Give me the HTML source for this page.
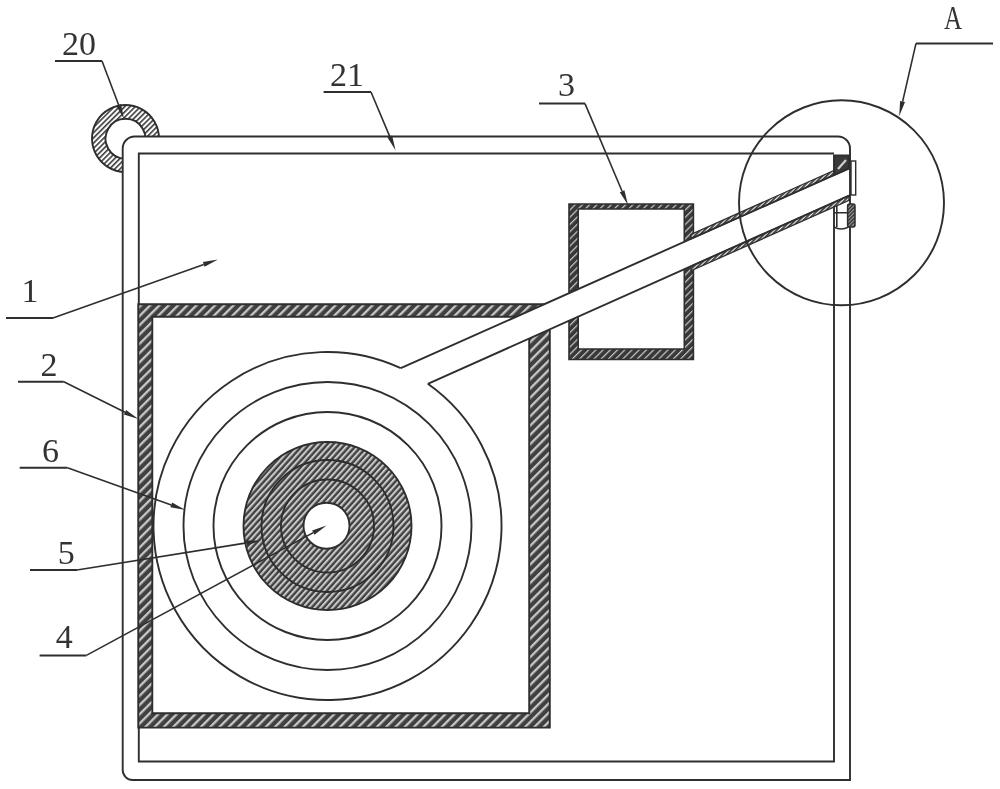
<!DOCTYPE html>
<html lang="en"><head><meta charset="utf-8"><title>Figure</title>
<style>
html,body{margin:0;padding:0;background:#fff;}
body{width:1000px;height:789px;overflow:hidden;}
svg{display:block;}
text{font-family:"Liberation Serif","Noto Serif CJK SC",serif;font-size:34px;fill:#333;}
</style></head><body>
<svg width="1000" height="789" viewBox="0 0 1000 789">
<defs>
<pattern id="hDisc" patternUnits="userSpaceOnUse" width="4.44" height="8" patternTransform="rotate(42)">
<rect width="4.44" height="8" fill="#404040"/><rect x="0" width="2.1" height="8" fill="#c8c8c8"/></pattern>
<pattern id="hWall" patternUnits="userSpaceOnUse" width="6.55" height="8" patternTransform="rotate(45)">
<rect width="6.55" height="8" fill="#404040"/><rect x="0" width="2.3" height="8" fill="#c8c8c8"/></pattern>
<pattern id="hBox3" patternUnits="userSpaceOnUse" width="5.1" height="8" patternTransform="rotate(45)">
<rect width="5.1" height="8" fill="#383838"/><rect x="0" width="1.25" height="8" fill="#c4c4c4"/></pattern>
<pattern id="hRing" patternUnits="userSpaceOnUse" width="3.7" height="8" patternTransform="rotate(45)">
<rect width="3.7" height="8" fill="#ffffff"/><rect x="0" width="1.6" height="8" fill="#3a3a3a"/></pattern>
<pattern id="hSleeve" patternUnits="userSpaceOnUse" width="3.0" height="8" patternTransform="rotate(45)">
<rect width="3.0" height="8" fill="#f4f4f4"/><rect x="0" width="1.8" height="8" fill="#383838"/></pattern>
<pattern id="hBolt" patternUnits="userSpaceOnUse" width="2.6" height="8" patternTransform="rotate(45)">
<rect width="2.6" height="8" fill="#3c3c3c"/><rect x="0" width="0.9" height="8" fill="#a8a8a8"/></pattern>
</defs>
<rect width="1000" height="789" fill="#fff"/>

<g fill="none" stroke="#2e2e2e" stroke-width="1.9" stroke-linejoin="miter">
<path d="M125.5 105 a33.5 33.5 0 1 0 0.01 0Z M125.5 118.8 a19.9 19.9 0 1 1 -0.01 0Z" fill="url(#hRing)" fill-rule="evenodd"/>
<path d="M134.7 136.5 H838 A12 12 0 0 1 850 148.5 V780 H132.7 A10 10 0 0 1 122.7 770 V148.5 A12 12 0 0 1 134.7 136.5Z" fill="#fff"/>
<path d="M834 153.5 H138.8 V761.5 H834 V206"/>
<path d="M138.3 304.3 H549.8 V727.6 H138.3Z M152.3 316.8 H529.2 V713.2 H152.3Z" fill="url(#hWall)" fill-rule="evenodd"/>
<path d="M427.83 383.84 A174 174 0 1 1 400.79 368.19"/>
<circle cx="327.5" cy="526.0" r="144"/><circle cx="327.5" cy="526.0" r="114"/>
<path d="M243.5 526.0 a84 84 0 1 0 168 0 a84 84 0 1 0 -168 0Z M303.5 525.7 a23 23 0 1 1 46 0 a23 23 0 1 1 -46 0Z" fill="url(#hDisc)" fill-rule="evenodd"/>
<circle cx="327.5" cy="526.0" r="66"/><circle cx="327.5" cy="526.0" r="46.5"/>
<path d="M569 204 H693.4 V359.5 H569Z M578.2 209 H684.3 V349 H578.2Z" fill="url(#hBox3)" fill-rule="evenodd" stroke-width="1.6"/>
<polygon points="400.79,368.19 849,168.39 849,195.62 427.83,383.84" fill="#fff" stroke="none"/>
<polygon points="691,238.94 834,175.09 834,170.49 691,234.34" fill="url(#hSleeve)" stroke-width="1.3"/>
<polygon points="691,266.17 849,195.62 849,200.22 691,270.77" fill="url(#hSleeve)" stroke-width="1.3"/>
<line x1="400.79" y1="368.19" x2="849" y2="168.39"/>
<line x1="427.83" y1="383.84" x2="849" y2="195.62"/>
<polygon points="834,155.5 849,155.5 849,168.39 834,175.09" fill="#3a3a3a"/>
<line x1="838" y1="169" x2="846" y2="160" stroke="#d0d0d0" stroke-width="2.2"/>
<rect x="851" y="161" width="4.7" height="34" stroke-width="1.4"/>
<rect x="847.6" y="204" width="7.4" height="23" rx="2" fill="url(#hBolt)" stroke-width="1.5"/>
<path d="M834 212.7 H848 M836.8 206 V227 M834 227 Q841 231 848.5 227" stroke-width="1.6"/>
<circle cx="841.5" cy="202.8" r="102.5"/>
</g>
<g fill="none" stroke="#2e2e2e" stroke-width="1.6">
<line x1="55" y1="61" x2="102" y2="61" stroke-width="2"/>
<line x1="102" y1="61" x2="118.7" y2="105.0"/><polygon points="124.0,119.0 116.3,105.9 121.0,104.1" fill="#2e2e2e" stroke="none"/>
<line x1="323.6" y1="92" x2="371" y2="92" stroke-width="2"/>
<line x1="371" y1="92" x2="389.8" y2="136.6"/><polygon points="395.6,150.4 387.5,137.5 392.1,135.6" fill="#2e2e2e" stroke="none"/>
<line x1="539" y1="103.6" x2="585" y2="103.6" stroke-width="2"/>
<line x1="585" y1="103.6" x2="622.1" y2="191.2"/><polygon points="628.0,205.0 619.8,192.2 624.4,190.2" fill="#2e2e2e" stroke="none"/>
<line x1="6" y1="317.9" x2="53" y2="317.9" stroke-width="2"/>
<line x1="53" y1="317.9" x2="203.8" y2="264.4"/><polygon points="217.9,259.4 204.6,266.8 202.9,262.1" fill="#2e2e2e" stroke="none"/>
<line x1="18" y1="381.7" x2="63.8" y2="381.7" stroke-width="2"/>
<line x1="63.8" y1="381.7" x2="125.0" y2="412.3"/><polygon points="138.4,419.0 123.9,414.5 126.1,410.1" fill="#2e2e2e" stroke="none"/>
<line x1="19.7" y1="467.8" x2="67.4" y2="467.8" stroke-width="2"/>
<line x1="67.4" y1="467.8" x2="171.3" y2="504.9"/><polygon points="185.4,509.9 170.4,507.2 172.1,502.5" fill="#2e2e2e" stroke="none"/>
<line x1="30" y1="570" x2="77" y2="570" stroke-width="2"/>
<line x1="77" y1="570" x2="246.7" y2="542.9"/><polygon points="261.5,540.5 247.1,545.3 246.3,540.4" fill="#2e2e2e" stroke="none"/>
<line x1="39.6" y1="655.4" x2="86.4" y2="655.4" stroke-width="2"/>
<line x1="86.4" y1="655.4" x2="313.3" y2="532.6"/><polygon points="326.5,525.5 314.5,534.8 312.1,530.4" fill="#2e2e2e" stroke="none"/>
<line x1="916" y1="43.4" x2="993" y2="43.4" stroke-width="2"/>
<line x1="916" y1="43.4" x2="902.6" y2="101.6"/><polygon points="899.2,116.2 900.1,101.0 905.0,102.1" fill="#2e2e2e" stroke="none"/>
</g>
<g style="opacity:0.999">
<text x="62" y="54.5">20</text>
<text x="330" y="86">21</text>
<text x="558" y="96">3</text>
<text x="21.5" y="301.7">1</text>
<text x="40.4" y="375.6">2</text>
<text x="42" y="461.8">6</text>
<text x="57.8" y="563.6">5</text>
<text x="55.8" y="648.2">4</text>
<text x="944" y="29.4" transform="translate(944 0) scale(0.74 1) translate(-944 0)">A</text>
</g>
</svg></body></html>
